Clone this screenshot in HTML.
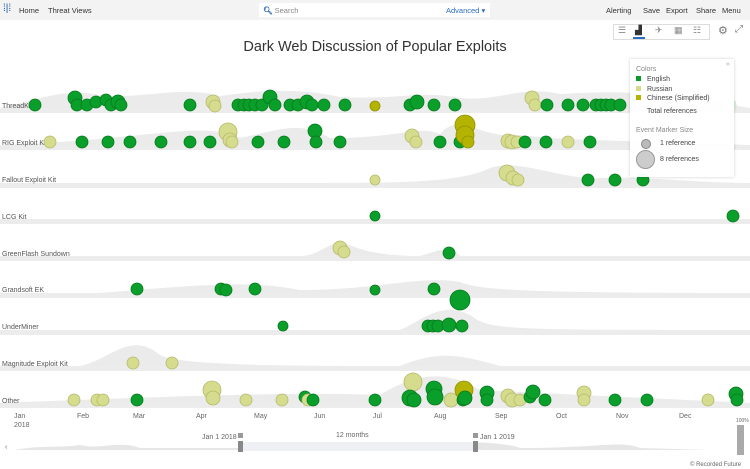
<!DOCTYPE html><html><head><meta charset="utf-8"><style>
body{margin:0;width:750px;height:469px;overflow:hidden;background:#fff;font-family:"Liberation Sans",sans-serif;position:relative}
.top{position:absolute;left:0;top:0;width:750px;height:20px;background:#f3f3f3;font-size:7.5px;color:#333}
.top span{position:absolute;top:6px}
.search{position:absolute;left:259px;top:3px;width:231px;height:14px;background:#fff}
.t{position:absolute;font-size:7px;color:#555}
</style></head><body>
<div class="top">
<span style="left:3px;top:3px;color:#1a5aa8;font-size:10px">⁞|⁞</span>
<span style="left:19px">Home</span><span style="left:48px">Threat Views</span>
<div class="search"><span style="left:4px;top:3px;color:#888"><b style="color:#1a5aa8">🔍︎</b> Search</span><span style="left:187px;top:3px;color:#2a6cc0">Advanced ▾</span></div>
<span style="left:606px">Alerting</span><span style="left:643px">Save</span><span style="left:666px">Export</span><span style="left:696px">Share</span><span style="left:722px">Menu</span>
</div>
<div style="position:absolute;left:613px;top:24px;width:95px;height:14px;border:1px solid #ddd;font-size:9px;color:#888">
<span style="position:absolute;left:4px;top:0">☰</span><span style="position:absolute;left:21px;top:0;color:#333">▟</span><div style="position:absolute;left:19px;top:12px;width:12px;height:2px;background:#2a6cc0"></div><span style="position:absolute;left:41px;top:0">✈</span><span style="position:absolute;left:60px;top:0">▦</span><span style="position:absolute;left:79px;top:0">☷</span></div>
<span class="t" style="left:718px;top:24px;font-size:11px;color:#777">⚙</span><span class="t" style="left:735px;top:24px;font-size:10px;color:#777">⤢</span>
<div style="position:absolute;left:0;width:750px;top:39px;text-align:center;font-size:14.5px;color:#333">Dark Web Discussion of Popular Exploits</div>
<svg width="750" height="469" style="position:absolute;left:0;top:0">
<g fill="#ebebeb">
<path d="M0,108 C40,100 60,88 100,95 C140,100 180,85 220,96 C260,90 300,88 340,97 C400,100 420,90 460,98 C500,102 520,85 560,94 C600,92 640,90 700,100 L750,108Z"/>
<path d="M0,145 C150,140 200,120 240,138 C280,130 300,120 330,138 C400,138 420,125 440,134 C460,110 480,140 520,135 C560,140 600,140 750,145Z"/>
<path d="M300,183 C400,183 460,183 490,168 C520,158 560,180 600,178 C640,176 700,183 750,183Z"/>
<path d="M300,256 C320,256 330,240 345,243 C360,250 380,256 420,256 C440,250 450,245 460,256Z"/>
<path d="M100,293 C200,285 250,280 300,290 C380,290 420,275 460,282 C480,290 520,293 750,293Z"/>
<path d="M400,330 C420,322 440,300 470,315 C490,330 500,330 750,330Z"/>
<path d="M80,366 C110,360 130,330 160,355 C180,366 300,366 400,366 C440,350 460,355 500,366 L750,366Z"/>
<path d="M0,403 C200,395 300,392 380,395 C420,370 450,372 480,390 C520,392 560,394 750,403Z"/>
</g>
<g fill="#ececec">
<rect x="0" y="108" width="750" height="5"/><rect x="0" y="145" width="750" height="5"/><rect x="0" y="183" width="750" height="5"/><rect x="0" y="219" width="750" height="5"/><rect x="0" y="256" width="750" height="5"/><rect x="0" y="293" width="750" height="5"/><rect x="0" y="330" width="750" height="5"/><rect x="0" y="366" width="750" height="5"/><rect x="0" y="403" width="750" height="5"/>
</g>
<g font-size="7" fill="#555">
<text x="2" y="108">ThreadKit</text><text x="2" y="145">RIG Exploit Kit</text><text x="2" y="182">Fallout Exploit Kit</text><text x="2" y="219">LCG Kit</text><text x="2" y="256">GreenFlash Sundown</text><text x="2" y="292">Grandsoft EK</text><text x="2" y="329">UnderMiner</text><text x="2" y="366">Magnitude Exploit Kit</text><text x="2" y="403">Other</text>
</g>
<g id="c" stroke-width="0.8"></g>
<g font-size="7" fill="#666">
<text x="14" y="418">Jan</text><text x="14" y="427">2018</text><text x="77" y="418">Feb</text><text x="133" y="418">Mar</text><text x="196" y="418">Apr</text><text x="254" y="418">May</text><text x="314" y="418">Jun</text><text x="373" y="418">Jul</text><text x="434" y="418">Aug</text><text x="495" y="418">Sep</text><text x="556" y="418">Oct</text><text x="616" y="418">Nov</text><text x="679" y="418">Dec</text>
<text x="202" y="439">Jan 1 2018</text><text x="336" y="437">12 months</text><text x="480" y="439">Jan 1 2019</text>
<text x="5" y="449">‹</text><text x="738" y="449">›</text>
<text x="690" y="466" font-size="6">© Recorded Future</text><text x="736" y="422" font-size="5">100%</text>
</g>
<path d="M15,450 C40,445 60,448 80,445 C100,450 120,440 140,448 L400,448 C420,440 500,440 520,448 C600,448 620,440 640,448 L710,450Z" fill="#e6e6e6"/>
<rect x="240" y="442" width="236" height="9" fill="#eef0f4"/>
<rect x="238" y="441" width="5" height="11" fill="#888"/><rect x="473" y="441" width="5" height="11" fill="#888"/>
<rect x="238" y="433" width="5" height="5" fill="#999"/><rect x="473" y="433" width="5" height="5" fill="#999"/>
<g fill="#aaa"><rect x="737" y="425" width="7" height="30"/></g>
</svg>
<div style="position:absolute;left:630px;top:59px;width:104px;height:118px;background:rgba(255,255,255,0.95);box-shadow:0 0 3px rgba(0,0,0,0.2);font-size:7px;color:#444">
<div style="position:absolute;left:6px;top:7px;color:#888">Colors</div>
<div style="position:absolute;left:96px;top:2px;color:#aaa">»</div>
<div style="position:absolute;left:6px;top:17px"><i style="display:inline-block;width:5px;height:5px;background:#0a9a2a;margin-right:6px"></i>English</div>
<div style="position:absolute;left:6px;top:27px"><i style="display:inline-block;width:5px;height:5px;background:#d6dc8e;margin-right:6px"></i>Russian</div>
<div style="position:absolute;left:6px;top:36px"><i style="display:inline-block;width:5px;height:5px;background:#b4b400;margin-right:6px"></i>Chinese (Simplified)</div>
<div style="position:absolute;left:17px;top:49px">Total references</div>
<div style="position:absolute;left:6px;top:68px;color:#888">Event Marker Size</div>
<div style="position:absolute;left:11px;top:80px;width:8px;height:8px;border-radius:50%;background:#bbb;border:1px solid #888"></div>
<div style="position:absolute;left:30px;top:81px">1 reference</div>
<div style="position:absolute;left:6px;top:91px;width:17px;height:17px;border-radius:50%;background:#ccc;border:1px solid #999"></div>
<div style="position:absolute;left:30px;top:97px">8 references</div>
</div>
<script>
var G='#0a9e2a',R='#d6dc8e',C='#b4b400',L='#dff2e0';
var d=[
[35,105,6,G],[75,98,7,G],[77,105,6,G],[87,105,6,G],[96,102,6,G],[106,100,6,G],[111,105,6,G],[118,102,7,G],[121,105,6,G],[190,105,6,G],[213,102,7,R],[215,106,6,R],[238,105,6,G],[244,105,6,G],[249,105,6,G],[255,105,6,G],[262,105,6,G],[270,97,7,G],[275,105,6,G],[290,105,6,G],[298,105,6,G],[307,102,7,G],[312,105,6,G],[324,105,6,G],[345,105,6,G],[375,106,5,C],[410,105,6,G],[417,102,7,G],[434,105,6,G],[455,105,6,G],[532,98,7,R],[535,105,6,R],[547,105,6,G],[568,105,6,G],[583,105,6,G],[596,105,6,G],[601,105,6,G],[606,105,6,G],[611,105,6,G],[620,105,6,G],[640,105,6,L],[730,105,6,L],
[50,142,6,R],[82,142,6,G],[108,142,6,G],[130,142,6,G],[161,142,6,G],[190,142,6,G],[210,142,6,G],[228,132,9,R],[230,140,7,R],[232,142,6,R],[258,142,6,G],[284,142,6,G],[315,131,7,G],[316,142,6,G],[340,142,6,G],[412,136,7,R],[416,142,6,R],[440,142,6,G],[460,142,6,G],[465,125,10,C],[465,135,9,C],[468,142,6,C],[508,141,7,R],[512,142,7,R],[517,142,6,R],[525,142,6,G],[546,142,6,G],[568,142,6,R],[590,142,6,G],[643,142,6,L],
[375,180,5,R],[507,173,8,R],[513,178,7,R],[518,180,6,R],[588,180,6,G],[615,180,6,G],[643,180,6,G],
[375,216,5,G],[733,216,6,G],
[340,248,7,R],[344,252,6,R],[449,253,6,G],
[137,289,6,G],[221,289,6,G],[226,290,6,G],[255,289,6,G],[375,290,5,G],[434,289,6,G],[460,300,10,G],
[283,326,5,G],[428,326,6,G],[433,326,6,G],[438,326,6,G],[449,325,7,G],[462,326,6,G],
[133,363,6,R],[172,363,6,R],
[74,400,6,R],[97,400,6,R],[103,400,6,R],[137,400,6,G],[212,390,9,R],[213,398,7,R],[246,400,6,R],[282,400,6,R],[305,397,6,G],[308,400,6,R],[313,400,6,G],[375,400,6,G],[413,382,9,R],[410,398,8,G],[414,400,7,G],[434,389,8,G],[435,397,8,G],[451,400,7,R],[463,400,6,G],[464,390,9,C],[465,398,7,G],[487,393,7,G],[487,400,6,G],[508,396,7,R],[512,400,7,R],[520,400,6,R],[530,397,6,G],[533,392,7,G],[545,400,6,G],[584,393,7,R],[584,400,6,R],[615,400,6,G],[647,400,6,G],[708,400,6,R],[736,394,7,G],[737,400,6,G]];
var s='';d.forEach(function(a){var st=a[3]==G?'#067a1e':a[3]==R?'#b5ba6a':a[3]==C?'#8f8f00':'#cde8cf';s+='<circle cx="'+a[0]+'" cy="'+a[1]+'" r="'+a[2]+'" fill="'+a[3]+'" stroke="'+st+'"/>';});
document.getElementById('c').innerHTML=s;
</script>
</body></html>
